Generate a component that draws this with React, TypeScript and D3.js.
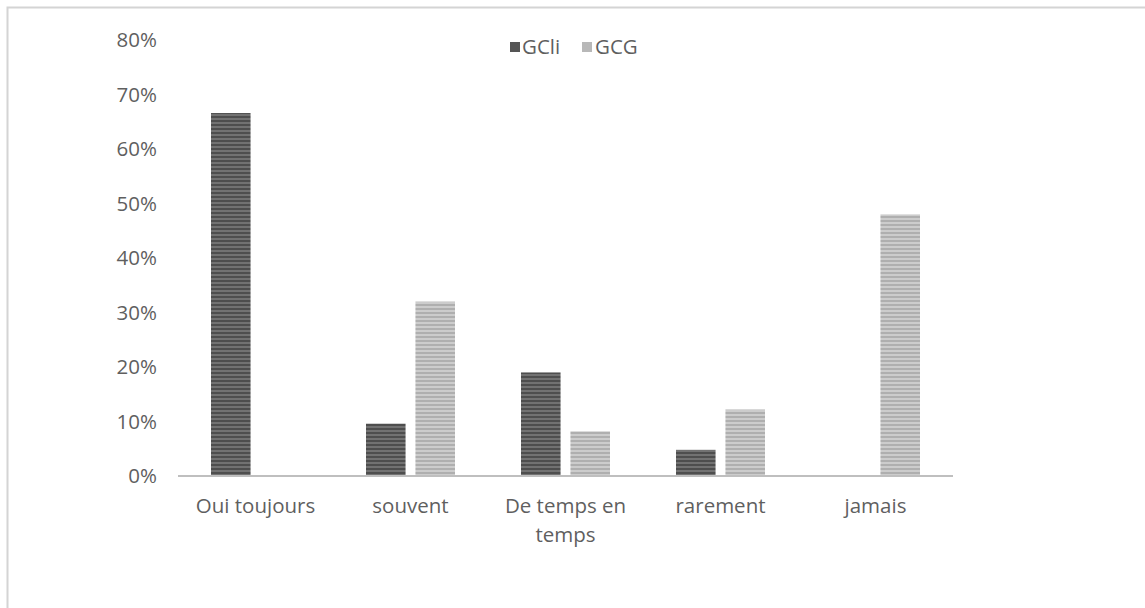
import React from "react";
import * as d3 from "d3";

const categories: string[][] = [["Oui toujours"], ["souvent"], ["De temps en", "temps"], ["rarement"], ["jamais"]];
const seriesNames = ["GCli", "GCG"];
const gcli = [0.666, 0.096, 0.19, 0.048, 0];
const gcg = [0, 0.32, 0.082, 0.122, 0.48];
const yTicks = [0, 0.1, 0.2, 0.3, 0.4, 0.5, 0.6, 0.7, 0.8];

const W = 1145;
const H = 608;
const left = 178;
const right = 953;
const top = 40;
const bottom = 476;
const font = "'Open Sans', sans-serif";
const fontSize = 20.5;
const textColor = "#5f5f5f";

export default function App() {
  const keys = categories.map((c) => c.join(" "));
  const x = d3.scaleBand<string>().domain(keys).range([left, right]).paddingInner(0).paddingOuter(0);
  const bw = x.bandwidth();
  const x1 = d3.scaleBand<string>().domain(seriesNames).range([bw / 2 - 44.5, bw / 2 + 44.5]).paddingInner(0.2).paddingOuter(0);
  const y = d3.scaleLinear().domain([0, 0.8]).range([bottom, top]);
  const fmt = d3.format(".0%");
  const series = [gcli, gcg];
  const fills = ["url(#darkStripe)", "url(#lightStripe)"];

  return (
    <div style={{ position: "fixed", left: 0, top: 0 }}>
      <svg width={W} height={H} style={{ display: "block", background: "#fff" }}>
        <defs>
          <pattern id="darkStripe" width="6" height="4" patternUnits="userSpaceOnUse">
            <rect width="6" height="4" fill="#727272" />
            <rect width="6" height="2" fill="#4e4e4e" />
          </pattern>
          <pattern id="lightStripe" width="6" height="4" patternUnits="userSpaceOnUse">
            <rect width="6" height="4" fill="#cccccc" />
            <rect width="6" height="2" fill="#afafaf" />
          </pattern>
        </defs>
        <rect x={7.5} y={7.5} width={W} height={H} fill="none" stroke="#d4d4d4" strokeWidth={2} />
        {yTicks.map((t) => (
          <text key={t} x={157} y={y(t)} dy="0.35em" textAnchor="end" fontFamily={font} fontSize={fontSize} fill={textColor}>
            {fmt(t)}
          </text>
        ))}
        {keys.map((k, i) =>
          series.map((s, j) =>
            s[i] > 0 ? (
              <rect
                key={k + j}
                x={(x(k) as number) + (x1(seriesNames[j]) as number)}
                y={y(s[i])}
                width={x1.bandwidth()}
                height={bottom - y(s[i])}
                fill={fills[j]}
              />
            ) : null
          )
        )}
        <line x1={left} x2={right} y1={bottom} y2={bottom} stroke="#bfbfbf" strokeWidth={2} />
        {categories.map((c, i) => (
          <text key={i} x={(x(keys[i]) as number) + bw / 2} y={506} textAnchor="middle" fontFamily={font} fontSize={fontSize} fill={textColor}>
            {c.map((line, li) => (
              <tspan key={li} x={(x(keys[i]) as number) + bw / 2} dy={li === 0 ? "0.35em" : "29"}>
                {line}
              </tspan>
            ))}
          </text>
        ))}
        <g fontFamily={font} fontSize={fontSize} fill={textColor}>
          <rect x={510} y={42} width={10} height={10} fill="#555" />
          <text x={522} y={47} dy="0.35em">{seriesNames[0]}</text>
          <rect x={582} y={42} width={10} height={10} fill="#b8b8b8" />
          <text x={595} y={47} dy="0.35em">{seriesNames[1]}</text>
        </g>
      </svg>
    </div>
  );
}
